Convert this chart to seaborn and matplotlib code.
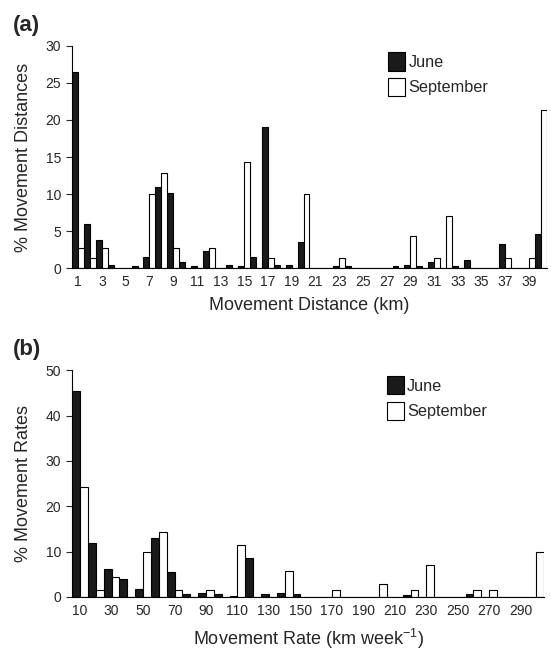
import pandas as pd
import matplotlib
matplotlib.use("Agg")
import matplotlib.pyplot as plt
import seaborn as sns

# ── data ────────────────────────────────────────────────────
# (a) movement distance, km (1 km bins)
distance_km = list(range(1, 41))
june_dist = [26.5, 6.0, 3.8, 0.5, 0, 0.3, 1.5, 10.9, 10.1, 0.8,
             0.3, 2.3, 0, 0.5, 0.3, 1.5, 19.0, 0.5, 0.5, 3.6,
             0, 0, 0.3, 0.3, 0, 0, 0, 0.3, 0.5, 0.3,
             0.8, 0, 0.3, 1.1, 0, 0, 3.3, 0, 0, 4.6]
sept_dist = [2.8, 1.4, 2.8, 0, 0, 0, 10.0, 12.8, 2.8, 0,
             0, 2.8, 0, 0, 14.3, 0, 1.4, 0, 0, 10.0,
             0, 0, 1.4, 0, 0, 0, 0, 0, 4.3, 0,
             1.4, 7.1, 0, 0, 0, 0, 1.4, 0, 1.4, 21.4]
dist_ticklabels = [str(d) for d in range(1, 40, 2)]

# (b) movement rate, km per week (10 km/week bins)
rate_kmwk = list(range(10, 310, 10))
june_rate = [45.5, 12.0, 6.2, 3.9, 1.7, 13.0, 5.4, 0.6, 0.8, 0.6,
             0.3, 8.7, 0.6, 0.8, 0.6, 0, 0, 0, 0, 0,
             0, 0.4, 0, 0, 0, 0.6, 0, 0, 0, 0]
sept_rate = [24.3, 1.5, 4.3, 0, 10.0, 14.3, 1.5, 0, 1.5, 0,
             11.4, 0, 0, 5.7, 0, 0, 1.5, 0, 0, 2.9,
             0, 1.5, 7.1, 0, 0, 1.5, 1.5, 0, 0, 10.0]
rate_ticklabels = [str(r) for r in range(10, 300, 20)]

months = ["June", "September"]
palette = {"June": "#1a1a1a", "September": "white"}


def long_table(cats, june, sept):
    return pd.DataFrame({
        "cat": cats + cats,
        "pct": june + sept,
        "month": ["June"] * len(cats) + ["September"] * len(cats),
    })


sns.set_style("ticks")
plt.rcParams["font.family"] = ["Liberation Sans", "DejaVu Sans"]
plt.rcParams["mathtext.default"] = "regular"

fig = plt.figure(figsize=(5.51, 6.54), dpi=100)
ax_a = fig.add_axes([0.1312, 0.5897, 0.861, 0.3404])
ax_b = fig.add_axes([0.1312, 0.0872, 0.8566, 0.3466])

panels = [
    (ax_a, long_table(distance_km, june_dist, sept_dist), distance_km,
     dist_ticklabels, 30, range(0, 31, 5),
     "% Movement Distances", "Movement Distance (km)", 0.97),
    (ax_b, long_table(rate_kmwk, june_rate, sept_rate), rate_kmwk,
     rate_ticklabels, 50, range(0, 51, 10),
     "% Movement Rates", "Movement Rate (km week$^{-1}$)", 0.975),
]

for ax, df, cats, ticklabels, ymax, yticks, ylab, xlab, leg_y in panels:
    sns.barplot(data=df, x="cat", y="pct", hue="month",
                order=cats, hue_order=months, palette=palette,
                width=1.0, gap=0, edgecolor="black", linewidth=0.8,
                saturation=1, errorbar=None, ax=ax)

    ax.set_xlim(-0.5, len(cats) - 0.5)
    ax.set_ylim(0, ymax)
    ax.set_yticks(list(yticks))
    ax.set_xticks(range(0, len(cats), 2))
    ax.set_xticklabels(ticklabels)
    ax.tick_params(axis="x", length=0, pad=5, labelsize=10)
    ax.tick_params(axis="y", length=4, width=0.8, pad=4, labelsize=10)

    ax.set_ylabel(ylab, fontsize=13)
    ax.set_xlabel(xlab, fontsize=13)
    sns.despine(ax=ax)
    for side in ["left", "bottom"]:
        ax.spines[side].set_linewidth(0.8)
        ax.spines[side].set_color("black")

    sns.move_legend(ax, "upper left", bbox_to_anchor=(0.666, leg_y),
                    title=None, frameon=False, fontsize=11.7,
                    borderpad=0, borderaxespad=0,
                    handlelength=1.05, handleheight=1.35,
                    handletextpad=0.2, labelspacing=0.45)

ax_a.yaxis.set_label_coords(-0.085, 0.5)
ax_b.yaxis.set_label_coords(-0.085, 0.5)
ax_a.xaxis.set_label_coords(0.5, -0.128)
ax_b.xaxis.set_label_coords(0.5, -0.132)

fig.text(0.0236, 0.9526, "(a)", fontsize=16, fontweight="bold", va="baseline")
fig.text(0.0236, 0.457, "(b)", fontsize=16, fontweight="bold", va="baseline")

plt.savefig("out.png", dpi=100)
